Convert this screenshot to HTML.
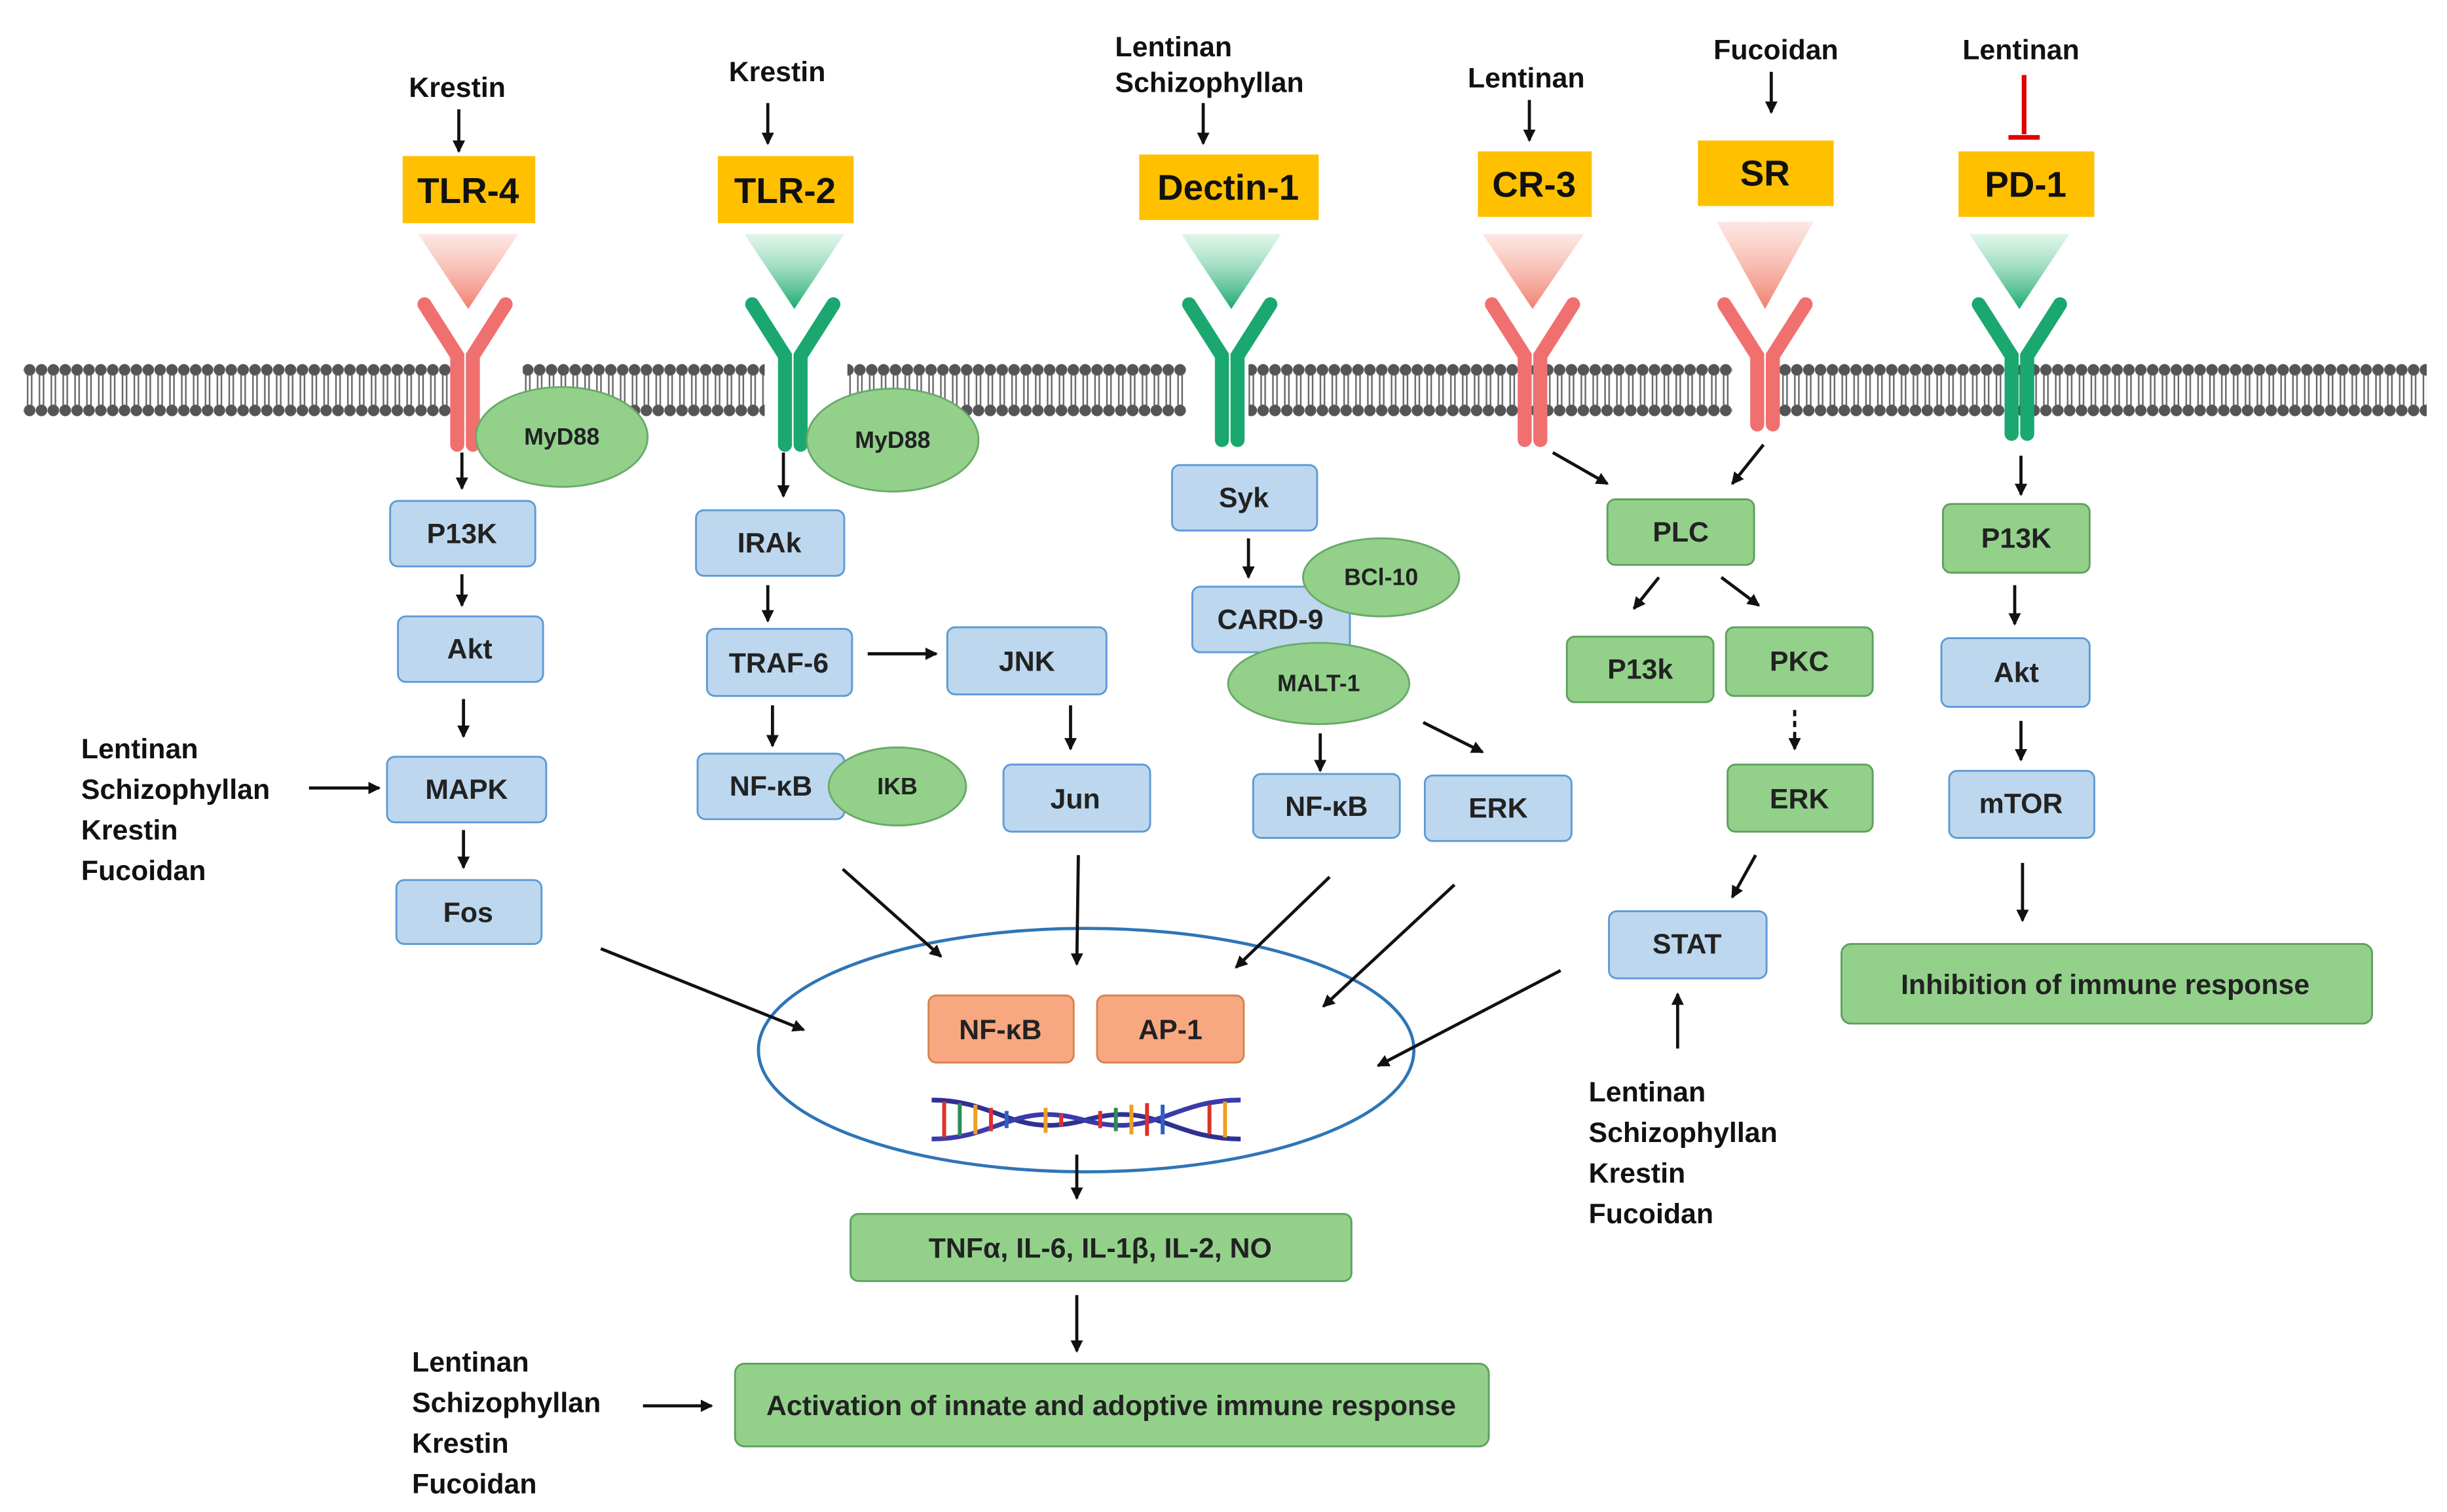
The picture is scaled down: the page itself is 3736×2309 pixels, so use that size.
<!DOCTYPE html>
<html><head><meta charset="utf-8"><style>html,body{margin:0;padding:0;background:#fff}svg{display:block}</style></head><body>
<svg xmlns="http://www.w3.org/2000/svg" width="3736" height="2309" viewBox="0 0 1568 969" font-family="Liberation Sans, sans-serif" font-weight="bold">
<defs>
<marker id="a" markerWidth="8" markerHeight="8" refX="7" refY="4" orient="auto" markerUnits="userSpaceOnUse"><path d="M0,0 L8,4 L0,8 z" fill="#111"/></marker>
<pattern id="mem" width="7.6" height="50" patternUnits="userSpaceOnUse" y="228">
<circle cx="3.8" cy="9" r="3.7" fill="#555"/><circle cx="3.8" cy="35" r="3.7" fill="#555"/>
<path d="M2.5,12 V22 M5.1,12 V22 M2.5,22 V32 M5.1,22 V32" stroke="#666" stroke-width="1"/>
</pattern>
<linearGradient id="gp" x1="0" y1="0" x2="0" y2="1"><stop offset="0" stop-color="#F7B0A0" stop-opacity="0.3"/><stop offset="1" stop-color="#F08070"/></linearGradient>
<linearGradient id="gg" x1="0" y1="0" x2="0" y2="1"><stop offset="0" stop-color="#B0E6C8" stop-opacity="0.4"/><stop offset="1" stop-color="#1AA870"/></linearGradient>
</defs>
<g fill="url(#mem)">
<rect x="15" y="228" width="275" height="48"/><rect x="335" y="228" width="155" height="48"/><rect x="543" y="228" width="217" height="48"/><rect x="800" y="228" width="310" height="48"/><rect x="1140" y="228" width="415" height="48"/>
</g>
<!-- triangles -->
<polygon points="268,150 332,150 300,198" fill="url(#gp)"/>
<polygon points="477,150 541,150 509,198" fill="url(#gg)"/>
<polygon points="757,150 821,150 789,198" fill="url(#gg)"/>
<polygon points="950,150 1015,150 982,198" fill="url(#gp)"/>
<polygon points="1100,142 1162,142 1131,198" fill="url(#gp)"/>
<polygon points="1262,150 1326,150 1294,198" fill="url(#gg)"/>
<!-- Y receptors -->
<g fill="none" stroke-width="9" stroke-linecap="round">
<path d="M293,285 V228 L272,195 M303,285 V228 L324,195" stroke="#F07070"/>
<path d="M503,285 V228 L482,195 M513,285 V228 L534,195" stroke="#1AA870"/>
<path d="M783,282 V228 L762,195 M793,282 V228 L814,195" stroke="#1AA870"/>
<path d="M977,282 V228 L956,195 M987,282 V228 L1008,195" stroke="#F07070"/>
<path d="M1126,272 V228 L1105,195 M1136,272 V228 L1157,195" stroke="#F07070"/>
<path d="M1289,278 V228 L1268,195 M1299,278 V228 L1320,195" stroke="#1AA870"/>
</g>
<!-- orange labels -->
<g fill="#FFC000"><rect x="258" y="100" width="85" height="43"/><rect x="460" y="100" width="87" height="43"/><rect x="730" y="99" width="115" height="42"/><rect x="947" y="97" width="73" height="42"/><rect x="1088" y="90" width="87" height="42"/><rect x="1255" y="97" width="87" height="42"/></g>
<g font-size="23" text-anchor="middle" fill="#111">
<text x="300" y="130">TLR-4</text><text x="503" y="130">TLR-2</text><text x="787" y="128">Dectin-1</text><text x="983" y="126">CR-3</text><text x="1131" y="119">SR</text><text x="1298" y="126">PD-1</text></g>
<g font-size="18" fill="#111" text-anchor="middle">
<text x="293" y="62">Krestin</text><text x="498" y="52">Krestin</text><text x="752" y="36">Lentinan</text><text x="775" y="59">Schizophyllan</text><text x="978" y="56">Lentinan</text><text x="1138" y="38">Fucoidan</text><text x="1295" y="38">Lentinan</text></g>
<g stroke="#111" stroke-width="2" marker-end="url(#a)" fill="none">
<path d="M294,70 V97"/><path d="M492,66 V92"/><path d="M771,66 V92"/><path d="M980,64 V90"/><path d="M1135,46 V72"/>
</g>
<path d="M1297,48 V86 M1287,88 H1307" stroke="#E00000" stroke-width="3"/>
<!-- green ellipses -->
<g fill="#93D18B" stroke="#6AAA6A" stroke-width="1.2">
<ellipse cx="360" cy="280" rx="55" ry="32"/><ellipse cx="572" cy="282" rx="55" ry="33"/><ellipse cx="575" cy="504" rx="44" ry="25"/><ellipse cx="885" cy="370" rx="50" ry="25"/><ellipse cx="845" cy="438" rx="58" ry="26"/>
</g>
<!-- blue boxes -->
<g fill="#BDD7EE" stroke="#5B9BD5" stroke-width="1.2">
<rect x="250" y="321" width="93" height="42" rx="5"/><rect x="255" y="395" width="93" height="42" rx="5"/><rect x="248" y="485" width="102" height="42" rx="5"/><rect x="254" y="564" width="93" height="41" rx="5"/>
<rect x="446" y="327" width="95" height="42" rx="5"/><rect x="453" y="403" width="93" height="43" rx="5"/><rect x="607" y="402" width="102" height="43" rx="5"/><rect x="447" y="483" width="94" height="42" rx="5"/><rect x="643" y="490" width="94" height="43" rx="5"/>
<rect x="751" y="298" width="93" height="42" rx="5"/><rect x="764" y="376" width="101" height="42" rx="5"/><rect x="803" y="496" width="94" height="41" rx="5"/><rect x="913" y="497" width="94" height="42" rx="5"/>
<rect x="1031" y="584" width="101" height="43" rx="5"/><rect x="1244" y="409" width="95" height="44" rx="5"/><rect x="1249" y="494" width="93" height="43" rx="5"/>
</g>
<ellipse cx="845" cy="438" rx="58" ry="26" fill="#93D18B" stroke="#6AAA6A" stroke-width="1.2"/>
<ellipse cx="885" cy="370" rx="50" ry="25" fill="#93D18B" stroke="#6AAA6A" stroke-width="1.2"/>
<ellipse cx="575" cy="504" rx="44" ry="25" fill="#93D18B" stroke="#6AAA6A" stroke-width="1.2"/>
<!-- green boxes -->
<g fill="#93D18B" stroke="#5FA05F" stroke-width="1.2">
<rect x="1030" y="320" width="94" height="42" rx="5"/><rect x="1004" y="408" width="94" height="42" rx="5"/><rect x="1106" y="402" width="94" height="44" rx="5"/><rect x="1107" y="490" width="93" height="43" rx="5"/>
<rect x="1245" y="323" width="94" height="44" rx="5"/><rect x="1180" y="605" width="340" height="51" rx="6"/><rect x="545" y="778" width="321" height="43" rx="5"/><rect x="471" y="874" width="483" height="53" rx="6"/>
</g>
<!-- nucleus -->
<ellipse cx="696" cy="673" rx="210" ry="78" fill="none" stroke="#2E75B6" stroke-width="2"/>
<g fill="#F8A880" stroke="#D98050" stroke-width="1.2"><rect x="595" y="638" width="93" height="43" rx="5"/><rect x="703" y="638" width="94" height="43" rx="5"/></g>
<!-- DNA -->
<g fill="none" stroke-width="3">
<path d="M597,705 C640,705 650,730 695,718 C740,705 750,730 795,730" stroke="#2E3192"/>
<path d="M597,730 C640,730 650,705 695,718 C740,730 750,705 795,705" stroke="#3A3AAA"/>
<g stroke-width="2.5">
<path d="M605,706 V729" stroke="#E0302A"/><path d="M615,707 V728" stroke="#2E8B57"/><path d="M625,708 V727" stroke="#F0A020"/><path d="M635,710 V725" stroke="#E0302A"/><path d="M645,712 V723" stroke="#3060C0"/>
<path d="M705,712 V723" stroke="#E0302A"/><path d="M715,710 V725" stroke="#2E8B57"/><path d="M725,708 V727" stroke="#F0A020"/><path d="M735,707 V728" stroke="#E0302A"/><path d="M745,708 V727" stroke="#3060C0"/><path d="M775,708 V727" stroke="#E0302A"/><path d="M785,706 V729" stroke="#F0A020"/>
<path d="M670,710 V726" stroke="#F0A020"/><path d="M680,714 V722" stroke="#E0302A"/>
</g></g>
<!-- box texts -->
<g font-size="18" fill="#222" text-anchor="middle">
<text x="296" y="348">P13K</text><text x="301" y="422">Akt</text><text x="299" y="512">MAPK</text><text x="300" y="591">Fos</text>
<text x="493" y="354">IRAk</text><text x="499" y="431">TRAF-6</text><text x="658" y="430">JNK</text><text x="494" y="510">NF-κB</text><text x="689" y="518">Jun</text>
<text x="797" y="325">Syk</text><text x="814" y="403">CARD-9</text><text x="850" y="523">NF-κB</text><text x="960" y="524">ERK</text>
<text x="1077" y="347">PLC</text><text x="1051" y="435">P13k</text><text x="1153" y="430">PKC</text><text x="1153" y="518">ERK</text><text x="1081" y="611">STAT</text>
<text x="1292" y="351">P13K</text><text x="1292" y="437">Akt</text><text x="1295" y="521">mTOR</text>
<text x="641" y="666">NF-κB</text><text x="750" y="666">AP-1</text>
<text x="705" y="806">TNFα, IL-6, IL-1β, IL-2, NO</text>
<text x="712" y="907">Activation of innate and adoptive immune response</text>
<text x="1349" y="637">Inhibition of  immune response</text>
</g>
<g font-size="15" fill="#222" text-anchor="middle">
<text x="360" y="285">MyD88</text><text x="572" y="287">MyD88</text><text x="575" y="509">IKB</text><text x="885" y="375">BCl-10</text><text x="845" y="443">MALT-1</text></g>
<!-- side labels -->
<g font-size="18" fill="#111">
<text x="52" y="486">Lentinan</text><text x="52" y="512">Schizophyllan</text><text x="52" y="538">Krestin</text><text x="52" y="564">Fucoidan</text>
<text x="264" y="879">Lentinan</text><text x="264" y="905">Schizophyllan</text><text x="264" y="931">Krestin</text><text x="264" y="957">Fucoidan</text>
<text x="1018" y="706">Lentinan</text><text x="1018" y="732">Schizophyllan</text><text x="1018" y="758">Krestin</text><text x="1018" y="784">Fucoidan</text>
</g>
<!-- arrows -->
<g stroke="#111" stroke-width="2" marker-end="url(#a)" fill="none">
<path d="M296,290 V313"/><path d="M296,368 V388"/><path d="M297,448 V472"/><path d="M297,532 V556"/><path d="M198,505 H243"/>
<path d="M502,290 V318"/><path d="M492,375 V398"/><path d="M495,452 V478"/><path d="M556,419 H600"/><path d="M686,452 V480"/>
<path d="M800,345 V370"/><path d="M846,470 V494"/><path d="M912,463 L950,482"/>
<path d="M995,290 L1030,310"/><path d="M1130,285 L1110,310"/><path d="M1063,370 L1047,390"/><path d="M1103,370 L1127,388"/>
<path d="M1150,455 V480" stroke-dasharray="4,3"/><path d="M1125,548 L1110,575"/><path d="M1075,672 V637"/>
<path d="M1295,292 V317"/><path d="M1291,375 V400"/><path d="M1295,462 V487"/><path d="M1296,553 V590"/>
<path d="M385,608 L515,660"/><path d="M540,557 L603,613"/><path d="M691,548 L690,618"/><path d="M852,562 L792,620"/><path d="M932,567 L848,645"/><path d="M1000,622 L883,683"/>
<path d="M690,740 V768"/><path d="M690,830 V866"/><path d="M412,901 H456"/>
</g>
</svg>
</body></html>
